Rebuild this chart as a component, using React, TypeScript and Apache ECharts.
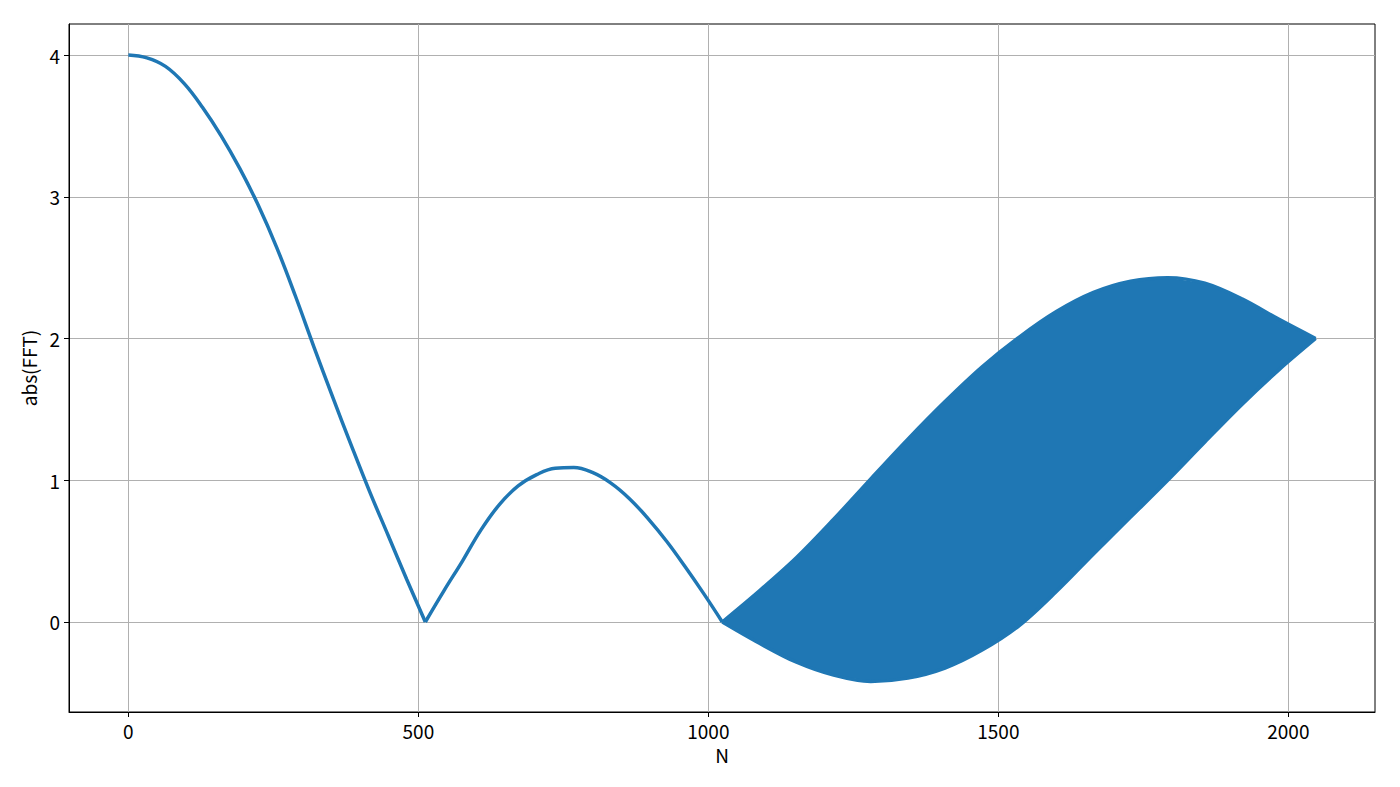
import React, { useEffect, useRef } from "react";
import * as echarts from "echarts";

const xTicks = [0, 500, 1000, 1500, 2000];
const yTicks = [0, 1, 2, 3, 4];

// single-line part of |FFT|: first lobe (N = 0..512)
const lobe1N = [0, 32, 64, 96, 128, 160, 192, 224, 256, 288, 320, 352, 384, 416, 448, 480, 512];
const lobe1V = [4.0, 3.98, 3.92, 3.8, 3.63, 3.43, 3.2, 2.94, 2.64, 2.3, 1.94, 1.59, 1.25, 0.92, 0.61, 0.3, 0.0];
// second lobe (N = 512..1024)
const lobe2N = [512, 544, 576, 608, 640, 672, 704, 736, 768, 800, 832, 864, 896, 928, 960, 992, 1024];
const lobe2V = [0.0, 0.22, 0.43, 0.65, 0.83, 0.96, 1.04, 1.085, 1.09, 1.055, 0.98, 0.87, 0.73, 0.57, 0.39, 0.2, 0.0];

// oscillating part (N = 1024..2047): upper and lower envelopes
const bandN = [1024, 1088, 1152, 1216, 1280, 1344, 1408, 1472, 1536, 1600, 1664, 1728, 1792, 1856, 1920, 1984, 2047];
const bandUpper = [0, 0.22, 0.455, 0.725, 1.01, 1.29, 1.555, 1.8, 2.01, 2.19, 2.325, 2.404, 2.429, 2.39, 2.28, 2.135, 2.0];
const bandLower = [0, -0.15, -0.284, -0.375, -0.42, -0.396, -0.325, -0.198, -0.025, 0.215, 0.48, 0.74, 1.0, 1.27, 1.535, 1.78, 2.0];

const COLOR = "#1f77b4";
const FONT = "'Noto Sans CJK SC', 'Noto Sans', sans-serif";

export default function App() {
  const ref = useRef<HTMLDivElement>(null);
  useEffect(() => {
    const chart = echarts.init(ref.current!, null, { renderer: "svg" });
    const lineSeries = (n: number[], v: number[], smooth: number) => ({
      type: "line",
      data: n.map((x, i) => [x, v[i]]),
      showSymbol: false,
      smooth,
      lineStyle: { color: COLOR, width: 3.5 },
      itemStyle: { color: COLOR },
      z: 3,
    });
    chart.setOption({
      animation: false,
      backgroundColor: "#ffffff",
      textStyle: { fontFamily: FONT },
      grid: {
        left: 69,
        right: 25,
        top: 24,
        bottom: 75,
        show: true,
        borderColor: "#000",
        borderWidth: 1,
        backgroundColor: "transparent",
      },
      xAxis: {
        type: "value",
        min: -102.35,
        max: 2149.35,
        name: "N",
        nameLocation: "middle",
        nameGap: 29,
        nameTextStyle: { color: "#000", fontSize: 19, lineHeight: 20, fontFamily: FONT },
        axisLine: { show: true, onZero: false, lineStyle: { color: "#000", width: 1 } },
        axisTick: { show: true, length: 5, customValues: xTicks, lineStyle: { color: "#000" } },
        axisLabel: {
          customValues: xTicks,
          margin: 8,
          color: "#000",
          fontSize: 19,
          lineHeight: 20,
          fontFamily: FONT,
          formatter: (v: number) => String(v),
        },
        splitLine: { show: true, lineStyle: { color: "#b0b0b0", width: 1 } },
      },
      yAxis: {
        type: "value",
        min: -0.635,
        max: 4.219,
        name: "abs(FFT)",
        nameLocation: "middle",
        nameGap: 19,
        nameTextStyle: { color: "#000", fontSize: 19, lineHeight: 20, fontFamily: FONT },
        axisLine: { show: true, onZero: false, lineStyle: { color: "#000", width: 1 } },
        axisTick: { show: true, length: 5, customValues: yTicks, lineStyle: { color: "#000" } },
        axisLabel: {
          customValues: yTicks,
          margin: 9,
          color: "#000",
          fontSize: 19,
          fontFamily: FONT,
          formatter: (v: number) => String(v),
        },
        splitLine: { show: true, lineStyle: { color: "#b0b0b0", width: 1 } },
      },
      series: [
        lineSeries(lobe1N, lobe1V, 0.4),
        lineSeries(lobe2N, lobe2V, 0.4),
        {
          type: "custom",
          data: bandN.map((n, i) => [n, bandUpper[i], bandLower[i]]),
          encode: { x: 0, y: [1, 2] },
          renderItem: (params: any, api: any) => {
            if (params.dataIndex !== 0) return null;
            const upper = bandN.map((n, i) => api.coord([n, bandUpper[i]]));
            const lower = bandN.map((n, i) => api.coord([n, bandLower[i]])).reverse();
            return {
              type: "polygon",
              shape: { points: upper.concat(lower) },
              style: { fill: COLOR, stroke: "none" },
            };
          },
          z: 2,
        },
        lineSeries(bandN, bandUpper, 0.33),
        lineSeries(bandN, bandLower, 0.33),
      ],
    });
    return () => chart.dispose();
  }, []);
  return (
    <div
      ref={ref}
      style={{ position: "absolute", left: 0, top: 0, width: 1400, height: 787 }}
    />
  );
}
